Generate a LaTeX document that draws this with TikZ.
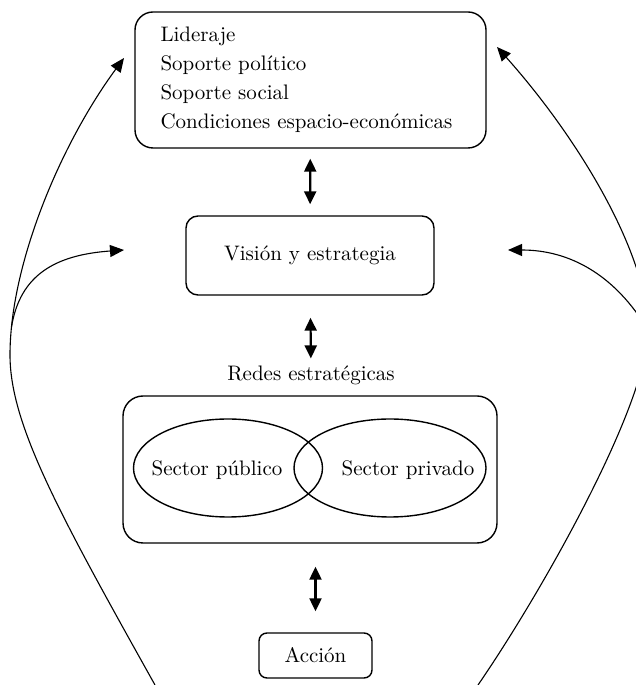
\documentclass[tikz,border=0pt]{standalone}
\usetikzlibrary{arrows.meta,shapes.geometric}
\tikzset{
  every node/.style={font=\fontsize{10.5pt}{14.5pt}\selectfont},
  caja/.style={draw, line width=0.7pt, rounded corners=#1},
  caja/.default=6pt,
  sector/.style={draw, ellipse, line width=0.7pt, minimum height=49pt, inner sep=0pt},
  flecha/.style={line width=0.55pt, -{Triangle[length=7pt,width=6pt]}},
  doble/.style={line width=1.1pt, {Triangle[length=6.5pt,width=6pt]}-{Triangle[length=6.5pt,width=6pt]}},
}
\begin{document}
\begin{tikzpicture}[x=0.5pt,y=0.5pt]
        \useasboundingbox (0,0) rectangle (636,685);
        \clip (0,0) rectangle (636,685);
        % Define the boxes
        \node[caja=9pt, minimum width=175.5pt, minimum height=68pt, text width=150pt, align=left, inner sep=0pt] (factores) at (310.5,605)
            {Lideraje\\ Soporte político\\ Soporte social\\ Condiciones espacio-económicas};
        \node[caja, minimum width=124pt, minimum height=39.5pt] (vision) at (310,429.5) {Visión y estrategia};
        \node (redtit) at (311,310) {Redes estratégicas};
        \node[caja=10pt, minimum width=187pt, minimum height=73.5pt] (redes) at (310,215.5) {};
        \node[sector, minimum width=94.5pt] (publico) at (228,217) {};
        \node[sector, minimum width=96pt] (privado) at (390,217) {};
        \node (pubtxt) at (217,215) {Sector público};
        \node (privtxt) at (408,215) {Sector privado};
        \node[caja=4pt, minimum width=56.5pt, minimum height=22.5pt] (accion) at (315.5,29.5) {Acción};
        % Add double arrows
        \draw[doble, shorten <=5pt, shorten >=5.5pt] (factores) -- (vision);
        \draw[doble, shorten <=11pt, shorten >=0pt] (vision) -- (redtit);
        \draw[doble, shorten <=11.5pt, shorten >=10.5pt] (redes.south -| accion) -- (accion);
        % Add feedback curves
        \coordinate (izq) at (10,330);
        \coordinate (ramaizq) at (11.5,358);
        \coordinate (der) at (648,355);
        \coordinate (baseizq) at (155,0);
        \coordinate (baseder) at (478,0);
        \coordinate (puntaizq) at (124,627);
        \coordinate (puntader) at (497,638);
        \coordinate (visizq) at (124,435);
        \coordinate (visder) at (508,435);
        \draw[flecha] (baseizq) .. controls (60,170) and (10,260) .. (izq) .. controls (10,420) and (60,540) .. (puntaizq);
        \draw[flecha] (ramaizq) .. controls (20,410) and (55,430) .. (visizq);
        \draw[flecha] (baseder) .. controls (540,90) and (648,280) .. (der) .. controls (648,430) and (580,545) .. (puntader);
        \draw[flecha] (der) .. controls (615,410) and (570,435) .. (visder);
\end{tikzpicture}
\end{document}
